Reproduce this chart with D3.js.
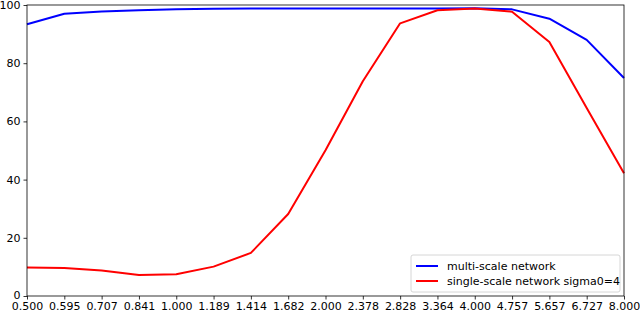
<!DOCTYPE html>
<html>
<head>
<style type="text/css">
body { margin: 0; background: #fff; }
text { font-family: "DejaVu Sans", sans-serif; }
</style>
</head>
<body>
<script src="https://d3js.org/d3.v7.min.js"></script>
<script>
// scale labels along the x axis
var scales = ["0.500","0.595","0.707","0.841","1.000","1.189","1.414","1.682","2.000",
              "2.378","2.828","3.364","4.000","4.757","5.657","6.727","8.000"];
var multiScale = [93.4, 97.0, 97.8, 98.2, 98.5, 98.7, 98.8, 98.8, 98.8,
                  98.8, 98.8, 98.8, 98.9, 98.5, 95.3, 88.0, 74.9];
var singleScale = [9.8, 9.6, 8.8, 7.2, 7.5, 10.1, 14.8, 28.2, 50.1,
                   73.8, 93.7, 98.2, 98.8, 97.7, 87.3, 64.6, 42.2];
var yTicks = [0, 20, 40, 60, 80, 100];
var seriesNames = ["multi-scale network", "single-scale network sigma0=4"];
var seriesColors = ["#0000ff", "#ff0000"];

var margin = {top: 5, right: 16, bottom: 17, left: 27};
var W = 640, H = 313;
var width = W - margin.left - margin.right;
var height = H - margin.top - margin.bottom;

var svg = d3.select("body").append("svg")
    .attr("width", W).attr("height", H);
var g = svg.append("g")
    .attr("transform", "translate(" + margin.left + "," + margin.top + ")");

var x = d3.scalePoint().domain(scales).range([0, width]);
var y = d3.scaleLinear().domain([0, 100]).range([height, 0]);

var line = d3.line()
    .x(function(d, i) { return x(scales[i]); })
    .y(function(d) { return y(d); });

[multiScale, singleScale].forEach(function(s, k) {
  g.append("path").datum(s)
    .attr("fill", "none")
    .attr("stroke", seriesColors[k])
    .attr("stroke-width", 2)
    .attr("stroke-linejoin", "round")
    .attr("d", line);
});

// frame
g.append("rect").attr("width", width).attr("height", height)
  .attr("fill", "none").attr("stroke", "#000").attr("stroke-width", 0.8);

var xAxis = g.append("g").attr("transform", "translate(0," + height + ")")
  .call(d3.axisBottom(x).tickSize(3.5).tickPadding(3));
var yAxis = g.append("g")
  .call(d3.axisLeft(y).tickValues(yTicks).tickSize(3.5).tickPadding(3));
[xAxis, yAxis].forEach(function(a) {
  a.select(".domain").remove();
  a.selectAll("line").attr("stroke", "#000").attr("stroke-width", 0.8);
  a.selectAll("text").attr("font-size", 11).attr("fill", "#000")
    .attr("font-family", "DejaVu Sans");
});
// nudge the bottom y label up a touch so it clears the x labels
yAxis.selectAll(".tick text").filter(function(d) { return d === 0; }).attr("dy", "0.2em");

// legend
var lg = g.append("g").attr("transform", "translate(" + (width - 213) + "," + (height - 41) + ")");
lg.append("rect").attr("width", 209).attr("height", 37).attr("rx", 2)
  .attr("fill", "#fff").attr("fill-opacity", 0.8)
  .attr("stroke", "#ccc").attr("stroke-width", 0.8);
seriesNames.forEach(function(n, i) {
  var yy = 11 + i * 15;
  lg.append("line").attr("x1", 5).attr("x2", 27).attr("y1", yy).attr("y2", yy)
    .attr("stroke", seriesColors[i]).attr("stroke-width", 2);
  lg.append("text").attr("x", 36).attr("y", yy).attr("dy", "0.35em")
    .attr("font-size", 11).text(n);
});
</script>
</body>
</html>
